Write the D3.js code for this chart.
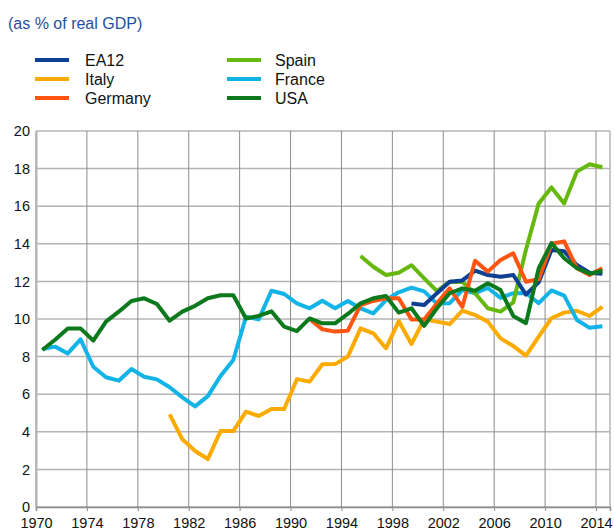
<!DOCTYPE html>
<html>
<head>
<meta charset="utf-8">
<script src="https://cdn.jsdelivr.net/npm/d3@7"></script>
<style>
  body { margin: 0; background: #fff; }
  svg { display: block; font-family: "Liberation Sans", Arial, sans-serif; }
</style>
</head>
<body>
<svg id="chart" width="614" height="531"></svg>
<script>
// Ratio to real GDP (%), annual, 1970-2014
const years = d3.range(1970, 2015);

const usa = [8.35, 8.9, 9.5, 9.5, 8.85, 9.86, 10.39, 10.96, 11.1, 10.8,
  9.91, 10.39, 10.7, 11.1, 11.26, 11.26, 10.03, 10.16, 10.41, 9.59,
  9.36, 10.03, 9.77, 9.77, 10.27, 10.83, 11.1, 11.22, 10.34, 10.57,
  9.63, 10.57, 11.37, 11.63, 11.5, 11.9, 11.54, 10.16, 9.78, 12.7,
  14.04, 13.23, 12.7, 12.41, 12.57];

const france = [8.4, 8.53, 8.17, 8.92, 7.46, 6.9, 6.72, 7.34, 6.93, 6.79,
  6.37, 5.83, 5.35, 5.9, 6.97, 7.82, 10.12, 9.98, 11.5, 11.33,
  10.83, 10.57, 10.97, 10.57, 10.96, 10.57, 10.3, 11.01, 11.42, 11.67,
  11.47, 10.82, 10.84, 11.54, 11.37, 11.65, 11.12, 11.37, 11.38, 10.84,
  11.52, 11.24, 9.95, 9.53, 9.62];

const italy = [null, null, null, null, null, null, null, null, null, null,
  4.93, 3.6, 2.98, 2.55, 4.04, 4.04, 5.07, 4.84, 5.21, 5.21,
  6.8, 6.67, 7.59, 7.6, 8.0, 9.5, 9.24, 8.44, 9.89, 8.67,
  9.98, 9.86, 9.73, 10.44, 10.21, 9.86, 8.97, 8.56, 8.05, 9.06,
  10.04, 10.34, 10.44, 10.16, 10.65];

const germany = [null, null, null, null, null, null, null, null, null, null,
  null, null, null, null, null, null, null, null, null, null,
  null, 10.0, 9.45, 9.33, 9.38, 10.74, 10.96, 11.1, 11.1, 9.98,
  9.98, 10.83, 11.63, 10.65, 13.1, 12.52, 13.14, 13.49, 11.98, 12.11,
  14.0, 14.13, 12.7, 12.34, 12.7];

const spain = [null, null, null, null, null, null, null, null, null, null,
  null, null, null, null, null, null, null, null, null, null,
  null, null, null, null, null, 13.35, 12.78, 12.34, 12.46, 12.86,
  12.16, 11.49, 11.98, 11.97, 11.37, 10.57, 10.39, 10.88, 13.7, 16.15,
  17.0, 16.15, 17.84, 18.23, 18.07];

const ea12 = [null, null, null, null, null, null, null, null, null, null,
  null, null, null, null, null, null, null, null, null, null,
  null, null, null, null, null, null, null, null, null, 10.83,
  10.74, 11.37, 11.98, 12.05, 12.57, 12.34, 12.25, 12.34, 11.3, 11.95,
  13.67, 13.6, 12.87, 12.46, 12.41];

const yTicks = [0, 2, 4, 6, 8, 10, 12, 14, 16, 18, 20];
const xTicks = d3.range(1970, 2015, 4);

// Series listed in legend order (column by column)
const seriesNames = ["EA12", "Italy", "Germany", "Spain", "France", "USA"];
const seriesColors = ["#0d3f92", "#fbab00", "#ff5510", "#67b80e", "#12b3e6", "#0c7a1c"];
const seriesValues = [ea12, italy, germany, spain, france, usa];
// Drawing order (later on top)
const drawOrder = ["Italy", "France", "Spain", "EA12", "Germany", "USA"];

const svg = d3.select("#chart");

const x = d3.scaleLinear().domain([1970, 2015.1]).range([36, 610]);
const y = d3.scaleLinear().domain([0, 20]).range([507, 131]);

// Title
svg.append("text")
  .attr("x", 8).attr("y", 29)
  .attr("fill", "#1f4f9e")
  .attr("font-size", 16)
  .text("(as % of real GDP)");

// Legend
const legend = svg.append("g");
seriesNames.forEach((name, i) => {
  const col = Math.floor(i / 3), row = i % 3;
  const lx = col === 0 ? 35 : 227;
  const tx = col === 0 ? 85 : 275;
  const ly = 60 + row * 19;
  legend.append("line")
    .attr("x1", lx).attr("x2", lx + 34)
    .attr("y1", ly).attr("y2", ly)
    .attr("stroke", seriesColors[i]).attr("stroke-width", 4);
  legend.append("text")
    .attr("x", tx).attr("y", ly + 6)
    .attr("font-size", 16).attr("fill", "#111")
    .text(name);
});

// Horizontal gridlines
svg.append("g")
  .selectAll("line")
  .data(yTicks)
  .join("line")
  .attr("x1", 36).attr("x2", 610)
  .attr("y1", d => y(d)).attr("y2", d => y(d))
  .attr("stroke", "#b4b4b4").attr("stroke-width", 1.5);

// Vertical gridlines
svg.append("g")
  .selectAll("line")
  .data(xTicks.concat([2015.1]))
  .join("line")
  .attr("x1", d => x(d)).attr("x2", d => x(d))
  .attr("y1", y(20)).attr("y2", y(0))
  .attr("stroke", d => d > 2014 ? "#b4b4b4" : "#8c8c8c").attr("stroke-width", d => d > 2014 ? 1.5 : 1);

// Y axis
const yAxis = d3.axisLeft(y).tickValues(yTicks).tickSize(0).tickPadding(6);
const gy = svg.append("g").attr("transform", "translate(36,0)").call(yAxis);
gy.select(".domain").attr("stroke", "#b4b4b4").attr("stroke-width", 2);
gy.selectAll("text").attr("font-size", 14.5).attr("fill", "#111")
  .attr("font-family", "Liberation Sans, Arial, sans-serif");

// X axis
const xAxis = d3.axisBottom(x).tickValues(xTicks).tickFormat(d3.format("d"))
  .tickSize(4).tickPadding(7);
const gx = svg.append("g").attr("transform", `translate(0,${y(0)})`).call(xAxis);
gx.select(".domain").attr("stroke", "#8c8c8c").attr("stroke-width", 1.5);
gx.selectAll(".tick line").attr("stroke", "#8c8c8c");
gx.selectAll("text").attr("font-size", 14.5).attr("fill", "#111")
  .attr("font-family", "Liberation Sans, Arial, sans-serif");

// Series lines; each point sits at the middle of its year
const line = d3.line()
  .defined(d => d.v != null)
  .x(d => x(d.year + 0.5))
  .y(d => y(d.v));

const plot = svg.append("g");
drawOrder.forEach(name => {
  const i = seriesNames.indexOf(name);
  const pts = years.map((yr, k) => ({ year: yr, v: seriesValues[i][k] }));
  plot.append("path")
    .datum(pts)
    .attr("fill", "none")
    .attr("stroke", seriesColors[i])
    .attr("stroke-width", 4)
    .attr("stroke-linejoin", "round")
    .attr("d", line);
});
</script>
</body>
</html>
